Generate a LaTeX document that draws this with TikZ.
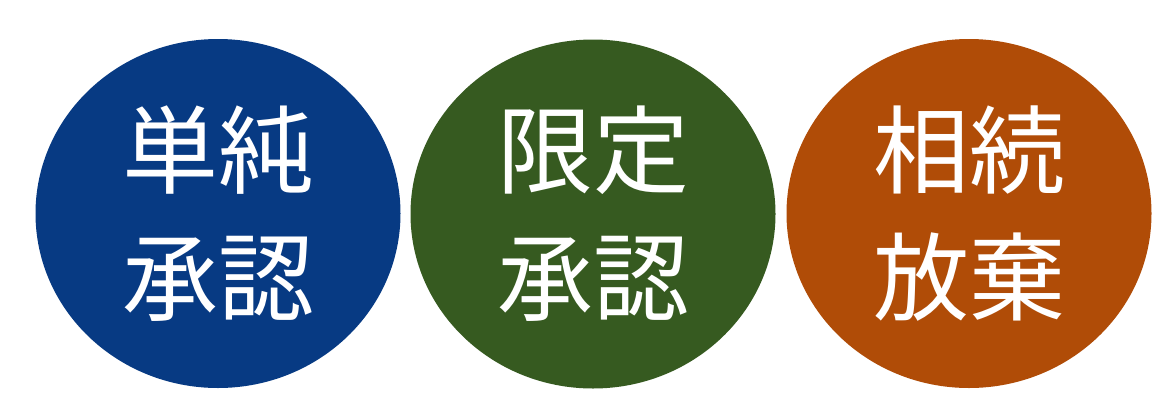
\documentclass[tikz,border=0pt]{standalone}
\usepackage{fontspec}
\newfontfamily\cjk{Noto Sans CJK JP}
\usetikzlibrary{shapes.geometric}
\definecolor{cblue}{HTML}{073A83}
\definecolor{cgreen}{HTML}{365A20}
\definecolor{corange}{HTML}{B04C07}
\begin{document}
\begin{tikzpicture}[x=1pt,y=-1pt]
\tikzset{circ/.style={ellipse, draw=none, minimum width=365pt, minimum height=349pt, inner sep=0pt, text=white, font=\cjk\fontsize{96}{127}\selectfont, align=center}}
\useasboundingbox (0,0) rectangle (1175,410);
\node[circ, fill=cblue] (a) at (218,213.5) {単純\\承認};
\node[circ, fill=cgreen] (b) at (593,214) {限定\\承認};
\node[circ, fill=corange] (c) at (969,213.5) {相続\\放棄};
\end{tikzpicture}
\end{document}
